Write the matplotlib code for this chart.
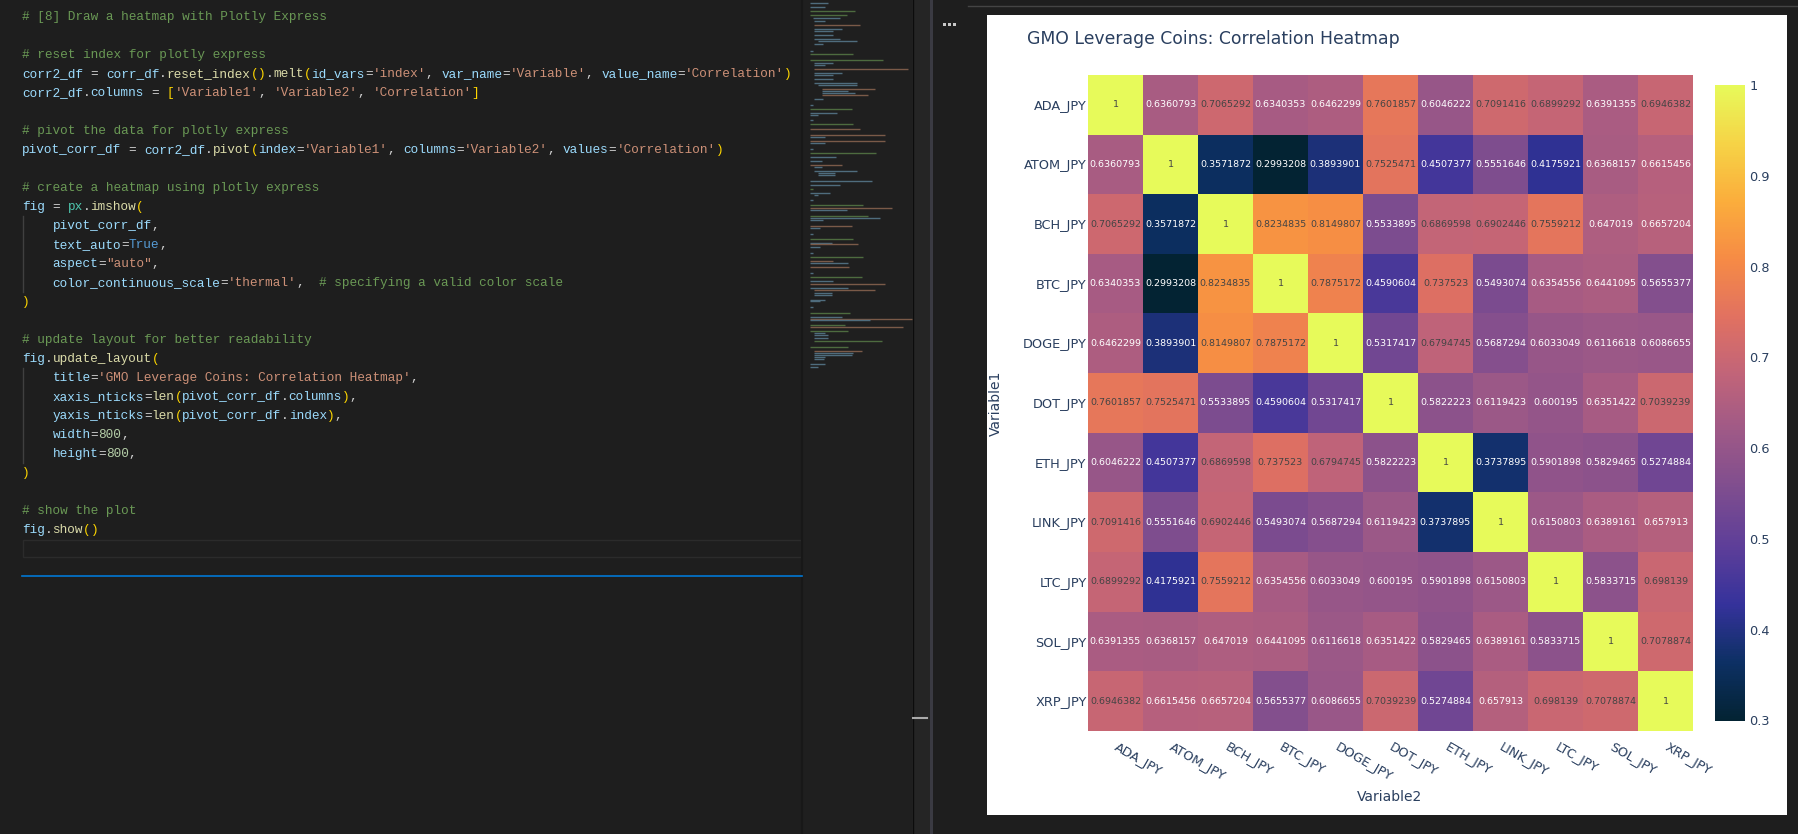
import re
import numpy as np
import matplotlib
matplotlib.use('Agg')
import matplotlib.pyplot as plt
from matplotlib.colors import LinearSegmentedColormap
from matplotlib.patches import Rectangle

W, H = 1798, 834

coins = ['ADA_JPY', 'ATOM_JPY', 'BCH_JPY', 'BTC_JPY', 'DOGE_JPY', 'DOT_JPY',
         'ETH_JPY', 'LINK_JPY', 'LTC_JPY', 'SOL_JPY', 'XRP_JPY']

ada = [1, 0.6360793, 0.7065292, 0.6340353, 0.6462299, 0.7601857, 0.6046222, 0.7091416, 0.6899292, 0.6391355, 0.6946382]
atom = [0.6360793, 1, 0.3571872, 0.2993208, 0.3893901, 0.7525471, 0.4507377, 0.5551646, 0.4175921, 0.6368157, 0.6615456]
bch = [0.7065292, 0.3571872, 1, 0.8234835, 0.8149807, 0.5533895, 0.6869598, 0.6902446, 0.7559212, 0.647019, 0.6657204]
btc = [0.6340353, 0.2993208, 0.8234835, 1, 0.7875172, 0.4590604, 0.737523, 0.5493074, 0.6354556, 0.6441095, 0.5655377]
doge = [0.6462299, 0.3893901, 0.8149807, 0.7875172, 1, 0.5317417, 0.6794745, 0.5687294, 0.6033049, 0.6116618, 0.6086655]
dot = [0.7601857, 0.7525471, 0.5533895, 0.4590604, 0.5317417, 1, 0.5822223, 0.6119423, 0.600195, 0.6351422, 0.7039239]
eth = [0.6046222, 0.4507377, 0.6869598, 0.737523, 0.6794745, 0.5822223, 1, 0.3737895, 0.5901898, 0.5829465, 0.5274884]
link = [0.7091416, 0.5551646, 0.6902446, 0.5493074, 0.5687294, 0.6119423, 0.3737895, 1, 0.6150803, 0.6389161, 0.657913]
ltc = [0.6899292, 0.4175921, 0.7559212, 0.6354556, 0.6033049, 0.600195, 0.5901898, 0.6150803, 1, 0.5833715, 0.698139]
sol = [0.6391355, 0.6368157, 0.647019, 0.6441095, 0.6116618, 0.6351422, 0.5829465, 0.6389161, 0.5833715, 1, 0.7078874]
xrp = [0.6946382, 0.6615456, 0.6657204, 0.5655377, 0.6086655, 0.7039239, 0.5274884, 0.657913, 0.698139, 0.7078874, 1]
corr = [ada, atom, bch, btc, doge, dot, eth, link, ltc, sol, xrp]

cbar_ticks = [0.3, 0.4, 0.5, 0.6, 0.7, 0.8, 0.9, 1]
cbar_labels = ['0.3', '0.4', '0.5', '0.6', '0.7', '0.8', '0.9', '1']

thermal = ['#032333', '#0d3064', '#35329b', '#5d3e99', '#7e4d8f', '#9e5987',
           '#c16479', '#e17161', '#f68b45', '#fbad3c', '#f6d346', '#e7fa5a']

code = """# [8] Draw a heatmap with Plotly Express

# reset index for plotly express
corr2_df = corr_df.reset_index().melt(id_vars='index', var_name='Variable', value_name='Correlation')
corr2_df.columns = ['Variable1', 'Variable2', 'Correlation']

# pivot the data for plotly express
pivot_corr_df = corr2_df.pivot(index='Variable1', columns='Variable2', values='Correlation')

# create a heatmap using plotly express
fig = px.imshow(
    pivot_corr_df,
    text_auto=True,
    aspect="auto",
    color_continuous_scale='thermal',  # specifying a valid color scale
)

# update layout for better readability
fig.update_layout(
    title='GMO Leverage Coins: Correlation Heatmap',
    xaxis_nticks=len(pivot_corr_df.columns),
    yaxis_nticks=len(pivot_corr_df.index),
    width=800,
    height=800,
)

# show the plot
fig.show()""".split('\n')

# minimap rows of the editor: y, start, end, kind
mini_top = [(2, 60, 115, 'k'), (6, 60, 105, 'k'), (10, 60, 195, 'c'), (14, 60, 172, 'c'), (17, 70, 150, 'k'),
            (20, 72, 105, 'k'), (24, 72, 210, 's'), (28, 72, 155, 'k'), (30, 72, 130, 'k'), (34, 72, 128, 'k'),
            (38, 72, 150, 'k'), (40, 85, 200, 'k'), (43, 72, 98, 'k'), (50, 60, 68, 'k'), (53, 60, 190, 'c'),
            (59, 60, 280, 'c'), (62, 72, 130, 'k'), (64, 72, 105, 'k'), (68, 72, 355, 's'), (72, 72, 155, 'k'),
            (74, 72, 130, 'k'), (78, 72, 128, 'k'), (82, 72, 200, 'k'), (84, 85, 200, 'k'), (88, 95, 255, 's'),
            (90, 95, 175, 'k'), (92, 95, 195, 'k'), (94, 95, 235, 's'), (98, 72, 98, 'k'), (104, 60, 68, 'k'),
            (108, 60, 185, 'c'), (112, 60, 140, 'k'), (114, 60, 85, 'k'), (119, 60, 68, 'k'), (123, 60, 188, 'c'),
            (128, 60, 210, 's'), (134, 60, 285, 's'), (136, 60, 105, 'k'), (140, 60, 285, 's'), (142, 60, 105, 'k'),
            (148, 60, 68, 'k'), (152, 60, 258, 'c'), (156, 60, 138, 'k'), (160, 60, 95, 'k'), (164, 60, 155, 's'),
            (166, 72, 95, 'k'), (170, 72, 200, 'k'), (172, 85, 135, 'k'), (174, 85, 135, 'k'), (180, 60, 245, 'k'),
            (184, 60, 150, 'k'), (188, 60, 68, 'c'), (192, 60, 120, 'k'), (194, 72, 85, 'k'), (199, 60, 68, 'k')]
mini_bottom = [(204, 60, 220, 'c'), (207, 60, 305, 's'), (209, 60, 170, 'k'), (215, 60, 235, 'c'), (217, 60, 270, 'k'),
               (219, 60, 100, 'k'), (225, 60, 185, 's'), (227, 60, 90, 'k'), (233, 60, 68, 'k'), (238, 60, 190, 'c'),
               (242, 60, 125, 'k'), (243, 60, 205, 's'), (246, 60, 90, 'k'), (252, 60, 68, 'k'), (256, 60, 218, 'c'),
               (260, 60, 130, 's'), (262, 60, 175, 'k'), (266, 60, 178, 's'), (272, 60, 68, 'k'), (276, 60, 215, 'c'),
               (280, 60, 130, 'k'), (283, 60, 285, 's'), (287, 60, 175, 'k'), (289, 72, 255, 's'), (292, 72, 125, 'k'),
               (294, 72, 125, 'k'), (299, 60, 105, 'k'), (300, 60, 90, 'k'), (306, 60, 68, 'k'), (312, 60, 180, 'c'),
               (316, 60, 155, 'k'), (318, 60, 365, 's'), (319, 60, 240, 'k'), (324, 60, 165, 'c'), (326, 60, 338, 's'),
               (330, 60, 175, 'c'), (332, 72, 105, 'k'), (334, 72, 115, 'k'), (337, 72, 115, 'k'), (340, 72, 275, 'c'),
               (346, 60, 175, 'c'), (350, 72, 215, 's'), (352, 72, 190, 'k'), (354, 72, 185, 'k'), (356, 72, 105, 'k'),
               (358, 72, 102, 'k'), (363, 60, 105, 'k'), (366, 60, 85, 'k')]

BG = '#1e1e1e'
TITLE_COLOR = '#2a3f5f'
syntax = {'comment': '#6a9955', 'var': '#9cdcfe', 'str': '#ce9178', 'func': '#dcdcaa', 'num': '#b5cea8',
          'const': '#569cd6', 'cls': '#4ec9b0', 'plain': '#d4d4d4'}
brackets = ['#ffd700', '#da70d6', '#179fff']
mini_colors = {'k': '#4f6c7d', 'c': '#4d6b3f', 's': '#7a5a48'}

fig = plt.figure(figsize=(W / 100, H / 100), dpi=100, facecolor=BG)

# whole window in pixel coordinates
bg = fig.add_axes([0, 0, 1, 1])
bg.set_xlim(0, W)
bg.set_ylim(H, 0)
bg.axis('off')

bg.add_patch(Rectangle((802, 0), 110, H, fc='#1f1f1f', ec='none'))
bg.add_patch(Rectangle((912, 0), 18, H, fc='#252525', ec='none'))
bg.add_patch(Rectangle((930, 0), 3, H, fc='#3a3a42', ec='none'))
bg.plot([801.5, 801.5], [0, H], color='#181818', lw=1.5)
bg.plot([912.5, 912.5], [0, H], color='#0c0c0c', lw=1)
bg.plot([913, 927], [718, 718], color='#aaaaaa', lw=1.5)
bg.plot([968, W], [6, 6], color='#444444', lw=1)
for dx in [944, 949, 954]:
    bg.add_patch(Rectangle((dx - 1.5, 22.5), 3, 3, fc='#c8c8c8', ec='none'))

# editor minimap
for y, x0, x1, kind in mini_top + mini_bottom:
    bg.plot([790 + x0 / 3, 790 + x1 / 3], [y + 0.5, y + 0.5], color=mini_colors[kind], lw=1.0,
            solid_capstyle='butt')

# code cell
CHAR_W = 7.62
token_re = re.compile(r"""(?P<comment>\#.*)|(?P<str>'[^']*'|"[^"]*")|(?P<num>\b\d+\b)|(?P<const>\bTrue\b)"""
                      r"""|(?P<name>[A-Za-z_]\w*)|(?P<br>[()\[\]])|(?P<other>\S)""")
for i, line in enumerate(code):
    depth = 0
    y = 16.7 + 19 * i
    for m in token_re.finditer(line):
        kind = m.lastgroup
        txt = m.group()
        if kind == 'name':
            after = line[m.end():m.end() + 1]
            kind = 'cls' if txt == 'px' else ('func' if after == '(' else 'var')
            color = syntax[kind]
        elif kind == 'br':
            if txt in '([':
                color = brackets[depth % 3]
                depth += 1
            else:
                depth = max(depth - 1, 0)
                color = brackets[depth % 3]
        elif kind == 'other':
            color = syntax['plain']
        else:
            color = syntax[kind]
        bg.text(22 + m.start() * CHAR_W, y, txt, color=color, family='Liberation Mono', fontsize=9.2,
                va='center', ha='left')

bg.plot([22.5, 22.5], [216, 292], color='#404040', lw=1)
bg.plot([22.5, 22.5], [368, 463], color='#404040', lw=1)
bg.add_patch(Rectangle((22.5, 539.5), 778, 17, fc='none', ec='#2b2b2b', lw=1))
bg.plot([22, 802], [576, 576], color='#0078d4', lw=1.2)

# plotly output
bg.add_patch(Rectangle((987, 15), 800, 800, fc='white', ec='none'))
bg.text(1027, 39, 'GMO Leverage Coins: Correlation Heatmap', color=TITLE_COLOR, fontsize=12.4, va='center', ha='left')
bg.text(1390, 797, 'Variable2', color=TITLE_COLOR, fontsize=10, va='center', ha='center')
bg.text(996, 403, 'Variable1', color=TITLE_COLOR, fontsize=10, va='center', ha='center', rotation=90)


def pixel_axes(x0, y0, x1, y1):
    return fig.add_axes([x0 / W, 1 - y1 / H, (x1 - x0) / W, (y1 - y0) / H])


cmap = LinearSegmentedColormap.from_list('thermal', thermal)
values = np.array(corr)

ax = pixel_axes(1088, 75, 1693, 731)
im = ax.imshow(values, cmap=cmap, vmin=values.min(), vmax=1, aspect='auto', interpolation='nearest')
ax.set_xticks(range(len(coins)))
ax.set_yticks(range(len(coins)))
ax.set_xticklabels(coins, rotation=-30, ha='left', va='center', rotation_mode='anchor', color=TITLE_COLOR, fontsize=9.3)
ax.set_yticklabels(coins, color=TITLE_COLOR, fontsize=9.3)
ax.tick_params(axis='x', length=0, pad=11)
ax.tick_params(axis='y', length=0, pad=1)
for s in ax.spines.values():
    s.set_visible(False)

for r, row in enumerate(corr):
    for c, v in enumerate(row):
        ax.text(c, r, f'{v:.7g}', ha='center', va='center', fontsize=6.8,
                color='#444444' if v > 0.67 else 'white')

cax = pixel_axes(1715, 85, 1745, 721)
cb = fig.colorbar(im, cax=cax, ticks=cbar_ticks)
cb.ax.set_yticklabels(cbar_labels, color=TITLE_COLOR, fontsize=9.3)
cb.ax.tick_params(length=0, pad=3)
cb.outline.set_visible(False)

fig.savefig('out.png', dpi=100, facecolor=BG)
